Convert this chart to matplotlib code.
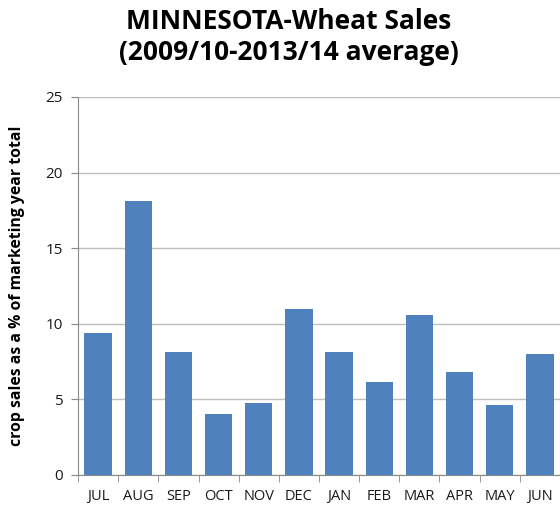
import numpy as np
import matplotlib.pyplot as plt

months = ["JUL", "AUG", "SEP", "OCT", "NOV", "DEC",
          "JAN", "FEB", "MAR", "APR", "MAY", "JUN"]
sales_pct = [9.36, 18.15, 8.16, 4.01, 4.78, 11.0,
             8.16, 6.18, 10.57, 6.78, 4.6, 7.98]

plt.rcParams["font.family"] = ["Open Sans", "DejaVu Sans"]

fig = plt.figure(figsize=(5.6, 5.16), dpi=100)
ax = fig.add_axes([78 / 560, 41 / 516, 482 / 560, 378 / 516])

x = np.arange(len(months))
ax.bar(x, sales_pct, width=0.68, color="#4F81BD", zorder=3)

ax.set_xlim(-0.5, len(months) - 0.5)
ax.set_ylim(0, 25)
ax.set_yticks([0, 5, 10, 15, 20, 25])
ax.yaxis.grid(True, color="#BFBFBF", linewidth=1, zorder=0)

ax.set_xticks(x)
ax.set_xticklabels(months)
ax.set_xticks(np.arange(-0.5, len(months), 1), minor=True)
ax.tick_params(axis="x", which="major", length=0, pad=10,
               labelsize=10.5, labelcolor="#1a1a1a")
ax.tick_params(axis="x", which="minor", length=5, color="#888888")
ax.tick_params(axis="y", length=5, color="#888888", labelsize=11,
               labelcolor="#1a1a1a", pad=6)

for side in ["top", "right"]:
    ax.spines[side].set_visible(False)
ax.spines["left"].set_color("#888888")
ax.spines["bottom"].set_color("#888888")

ax.set_ylabel("crop sales as a % of marketing year total",
              fontsize=11.3, fontweight="bold", labelpad=15)

fig.text(0.515, 0.985, "MINNESOTA-Wheat Sales\n(2009/10-2013/14 average)",
         ha="center", va="top", fontsize=19, fontweight="bold",
         linespacing=1.22)

fig.savefig("out.png", dpi=100)
